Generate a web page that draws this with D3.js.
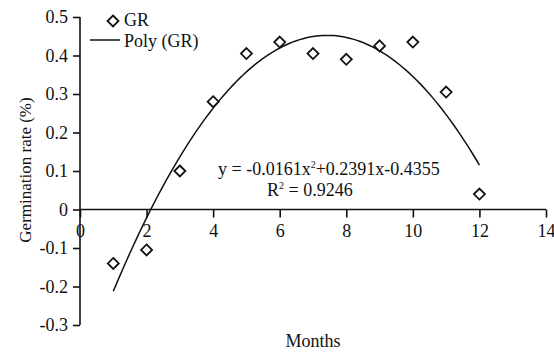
<!DOCTYPE html>
<html>
<head>
<meta charset="utf-8">
<script src="https://cdn.jsdelivr.net/npm/d3@7"></script>
<style>
body { margin: 0; background: #fff; }
text { font-family: "Liberation Serif", "Times New Roman", serif; fill: #111; }
</style>
</head>
<body>
<svg id="chart" width="554" height="352"></svg>
<script>
// data
const months = [1, 2, 3, 4, 5, 6, 7, 8, 9, 10, 11, 12];
const grValues = [-0.14, -0.105, 0.10, 0.28, 0.405, 0.435, 0.405, 0.39, 0.425, 0.435, 0.305, 0.04];
// polynomial trend coefficients as printed on the chart (c0 + c1 x + c2 x^2)
const polyCoefs = [-0.4355, 0.2391, -0.0161];
const xTicks = [0, 2, 4, 6, 8, 10, 12, 14];
const yTicks = [-0.3, -0.2, -0.1, 0, 0.1, 0.2, 0.3, 0.4, 0.5];

const svg = d3.select("#chart");

var x = d3.scaleLinear().domain([0, 14]).range([80, 546]);
var y = d3.scaleLinear().domain([-0.3, 0.5]).range([325, 17]);

// plain hyphen for negatives, like the original
const fmt = d3.formatLocale({ decimal: ".", thousands: ",", grouping: [3], currency: ["", ""], minus: "-" }).format(".1f");

// y axis
const yAxis = svg.append("g")
    .attr("transform", "translate(" + x(0) + ",0)")
    .call(d3.axisLeft(y).tickValues(yTicks).tickSize(7).tickPadding(5)
        .tickFormat(d => Math.abs(d) < 1e-9 ? "0" : fmt(d)));
yAxis.select(".domain").attr("stroke", "#111").attr("stroke-width", 1.6).attr("d", "M0," + y(-0.3) + "V" + y(0.5));
yAxis.selectAll(".tick line").attr("stroke", "#111").attr("stroke-width", 1.6);
yAxis.selectAll(".tick text").style("font-size", "18px").attr("fill", "#111");

// x axis at zero
const xAxis = svg.append("g")
    .attr("transform", "translate(0," + y(0) + ")")
    .call(d3.axisBottom(x).tickValues(xTicks).tickSize(8).tickPadding(7));
xAxis.select(".domain").attr("stroke", "#111").attr("stroke-width", 1.6).attr("d", "M" + x(0) + ",0H" + x(14));
xAxis.selectAll(".tick line").attr("stroke", "#111").attr("stroke-width", 1.6);
xAxis.selectAll(".tick text").style("font-size", "18px").attr("fill", "#111");

// trend line
const poly = t => polyCoefs[0] + polyCoefs[1] * t + polyCoefs[2] * t * t;
const curveX = d3.range(months[0], months[months.length - 1] + 0.001, 0.1);
svg.append("path")
    .datum(curveX)
    .attr("fill", "none")
    .attr("stroke", "#111")
    .attr("stroke-width", 1.5)
    .attr("d", d3.line().x(d => x(d)).y(d => y(poly(d))));

// data points
const diamond = "M0,-5.5L5.5,0L0,5.5L-5.5,0Z";
svg.selectAll(".pt")
    .data(months)
    .enter().append("path")
    .attr("class", "pt")
    .attr("transform", (d, i) => "translate(" + x(d) + "," + y(grValues[i]) + ")")
    .attr("d", diamond)
    .attr("fill", "#fff")
    .attr("stroke", "#111")
    .attr("stroke-width", 1.8);

// legend
svg.append("path").attr("d", diamond).attr("transform", "translate(113,21)")
    .attr("fill", "#fff").attr("stroke", "#111").attr("stroke-width", 1.8);
svg.append("text").attr("x", 124).attr("y", 26).style("font-size", "18px").text("GR");
svg.append("line").attr("x1", 90).attr("x2", 120).attr("y1", 40).attr("y2", 40)
    .attr("stroke", "#111").attr("stroke-width", 1.5);
svg.append("text").attr("x", 124).attr("y", 47).style("font-size", "18px").text("Poly (GR)");

// equation
const eq = svg.append("text").attr("x", 218).attr("y", 174.5).style("font-size", "18px");
eq.append("tspan").text("y = -0.0161x");
eq.append("tspan").attr("dy", -7).style("font-size", "10px").text("2");
eq.append("tspan").attr("dy", 7).text("+0.2391x-0.4355");
const r2 = svg.append("text").attr("x", 267).attr("y", 195.5).style("font-size", "18px");
r2.append("tspan").text("R");
r2.append("tspan").attr("dy", -7).style("font-size", "10px").text("2");
r2.append("tspan").attr("dy", 7).text(" = 0.9246");

// axis titles
svg.append("text").attr("x", 313).attr("y", 347).attr("text-anchor", "middle")
    .style("font-size", "18px").text("Months");
svg.append("text").attr("transform", "translate(31,170) rotate(-90)").attr("text-anchor", "middle")
    .style("font-size", "17px").text("Germination rate (%)");
</script>
</body>
</html>
